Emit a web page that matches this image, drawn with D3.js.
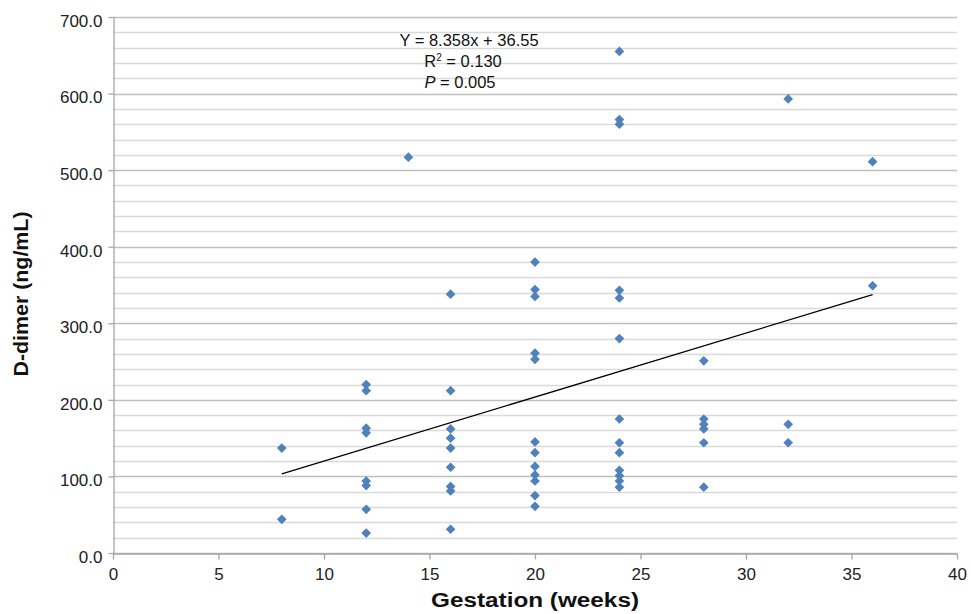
<!DOCTYPE html>
<html>
<head>
<meta charset="utf-8">
<script src="https://cdn.jsdelivr.net/npm/d3@7"></script>
<style>
	body { margin: 0; background: #fff; }
	text { font-family: "Liberation Sans", Arial, sans-serif; }
</style>
</head>
<body>
<script>
// gestation weeks and d-dimer values
var weeks = [8, 8,
	12, 12, 12, 12, 12, 12, 12, 12,
	14,
	16, 16, 16, 16, 16, 16, 16, 16, 16,
	20, 20, 20, 20, 20, 20, 20, 20, 20, 20, 20, 20,
	24, 24, 24, 24, 24, 24, 24, 24, 24, 24, 24, 24, 24,
	28, 28, 28, 28, 28, 28,
	32, 32, 32,
	36, 36]
var ddimer = [137, 44,
	220, 212, 163, 157, 94, 88, 57, 26,
	517,
	338, 212, 162, 150, 137, 112, 87, 81, 31,
	380, 344, 335, 261, 253, 145, 131, 113, 102, 94, 75, 61,
	655, 566, 560, 343, 333, 280, 175, 144, 131, 108, 101, 94, 86,
	251, 175, 168, 162, 144, 86,
	593, 168, 144,
	511, 349]
var slope = 8.358
var intercept = 36.55
var fitRange = [8, 36]
var xTicks = [0, 5, 10, 15, 20, 25, 30, 35, 40]
var yTicks = [0, 100, 200, 300, 400, 500, 600, 700]
var yMinor = d3.range(0, 701, 20)

var dataset = weeks.map((w, i) => ({x: w, y: ddimer[i]}))

var w = 971
var h = 614
var padL = 113, padR = 957, padT = 17, padB = 553

var svg = d3.select("body")
	.append("svg")
	.attr("width", w)
	.attr("height", h)

// Scales
var xScale = d3.scaleLinear().domain([0, 40]).range([padL, padR])
var yScale = d3.scaleLinear().domain([0, 700]).range([padB, padT])

// minor + major grid
svg.append("g")
	.selectAll("line")
	.data(yMinor)
	.enter()
	.append("line")
	.attr("x1", padL)
	.attr("x2", padR)
	.attr("y1", (d) => Math.round(yScale(d)) + 0.5)
	.attr("y2", (d) => Math.round(yScale(d)) + 0.5)
	.attr("stroke", (d) => d % 100 == 0 ? "#bfbfbf" : "#d9d9d9")
	.attr("stroke-width", 1.3)

// Axes
var xAxis = d3.axisBottom(xScale).tickValues(xTicks).tickSize(6).tickSizeOuter(0)
var yAxis = d3.axisLeft(yScale).tickValues(yTicks).tickSize(5).tickSizeOuter(0)
	.tickFormat(d3.format(".1f"))

var gx = svg.append("g")
	.attr("transform", "translate(0," + (Math.round(padB) + 0.5) + ")")
	.call(xAxis)
var gy = svg.append("g")
	.attr("transform", "translate(" + (padL + 0.5) + ",0)")
	.call(yAxis)

svg.selectAll(".domain, .tick line").attr("stroke", "#a6a6a6").attr("stroke-width", 1.3)
gx.selectAll("text").attr("fill", "#222").style("font-size", "17px").attr("dy", "1.05em")
gy.selectAll("text").attr("fill", "#222").style("font-size", "17px").attr("dx", "-3").attr("dy", "0.55em")

// trend line
svg.append("line")
	.attr("x1", xScale(fitRange[0]))
	.attr("y1", yScale(slope * fitRange[0] + intercept))
	.attr("x2", xScale(fitRange[1]))
	.attr("y2", yScale(slope * fitRange[1] + intercept))
	.attr("stroke", "#000")
	.attr("stroke-width", 1.3)

// points
svg.append("g")
	.selectAll("path")
	.data(dataset)
	.enter()
	.append("path")
	.attr("d", d3.symbol().type(d3.symbolDiamond2).size(60))
	.attr("transform", (d) => "translate(" + xScale(d.x) + "," + yScale(d.y) + ")")
	.attr("fill", "#4f81bd")

// annotation
var ann = svg.append("text")
	.attr("x", 469)
	.attr("y", 46)
	.attr("text-anchor", "middle")
	.style("font-size", "16.5px")
	.attr("fill", "#111")
ann.append("tspan").attr("x", 469).text("Y = 8.358x + 36.55")
var r2 = ann.append("tspan").attr("x", 463).attr("dy", 21)
r2.append("tspan").text("R")
r2.append("tspan").attr("dy", -6).style("font-size", "10px").text("2")
r2.append("tspan").attr("dy", 6).text(" = 0.130")
var pl = ann.append("tspan").attr("x", 460).attr("dy", 21)
pl.append("tspan").style("font-style", "italic").text("P")
pl.append("tspan").text(" = 0.005")

// axis titles
svg.append("text")
	.attr("x", 535)
	.attr("y", 607)
	.attr("text-anchor", "middle")
	.attr("textLength", 208)
	.attr("lengthAdjust", "spacingAndGlyphs")
	.style("font-size", "20px")
	.style("font-weight", "bold")
	.attr("fill", "#111")
	.text("Gestation (weeks)")

svg.append("text")
	.attr("transform", "translate(28," + ((padT + padB) / 2 + 9) + ") rotate(-90)")
	.attr("text-anchor", "middle")
	.attr("textLength", 165)
	.attr("lengthAdjust", "spacingAndGlyphs")
	.style("font-size", "20px")
	.style("font-weight", "bold")
	.attr("fill", "#111")
	.text("D-dimer (ng/mL)")
</script>
</body>
</html>
